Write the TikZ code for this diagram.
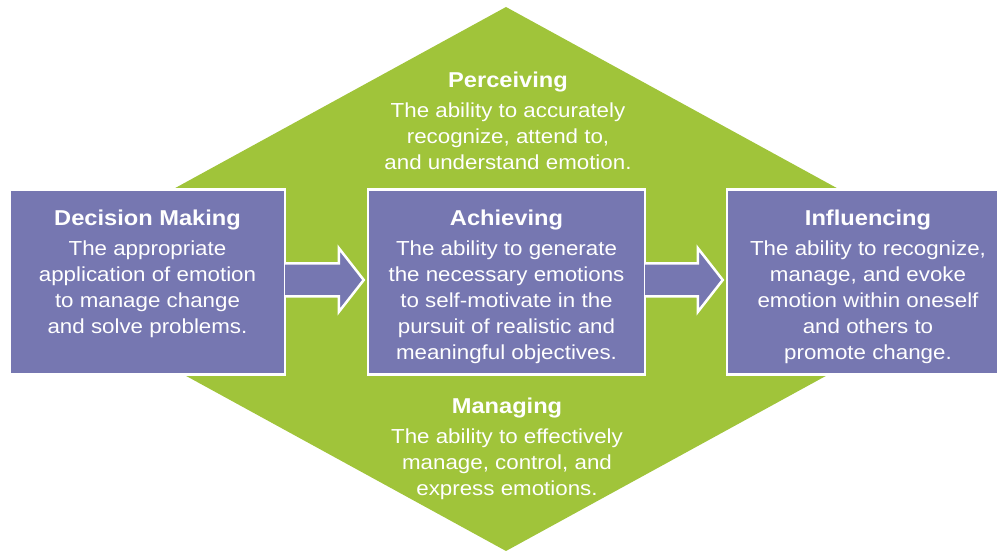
\documentclass[tikz,border=0pt]{standalone}
\usepackage{fontspec}
\setmainfont[FakeStretch=1.1]{Liberation Sans}
\usetikzlibrary{positioning}
\definecolor{leafgreen}{HTML}{A0C43A}
\definecolor{slate}{HTML}{7677B1}
\newcommand{\skillhead}[1]{{\fontsize{21.5}{26}\selectfont\bfseries #1}}
\tikzset{
  skill box/.style={draw=white, line width=2.5pt, fill=slate, minimum width=275pt, minimum height=185pt, inner sep=0pt},
  skill text/.style={text=white, align=center, inner sep=0pt, font=\fontsize{20.3}{26}\selectfont},
  block arrow/.style={fill=slate, draw=white, line width=2.5pt, line join=miter}}

\begin{document}
\begin{tikzpicture}[x=1pt,y=1pt]
  \useasboundingbox (0,0) rectangle (997,552);
  % green diamond behind everything
  \fill[leafgreen] (506,545) -- (1003,273) -- (506,1) -- (9,273) -- cycle;

  \node[skill box] (dm) at (147.5,270) {};
  \node[skill box, minimum width=277pt] (ach) at (506.5,270) {};
  \node[skill box, minimum width=282pt] (inf) at (868,270) {};

  \foreach \from/\to in {dm/ach, ach/inf} {
    \filldraw[block arrow] ([xshift=-1.25pt,yshift=18.5pt]\from.east)
      -- ([xshift=-28pt,yshift=18.5pt]\to.west) -- ([xshift=-28pt,yshift=34pt]\to.west)
      -- ([xshift=-3pt,yshift=2pt]\to.west)
      -- ([xshift=-28pt,yshift=-30pt]\to.west) -- ([xshift=-28pt,yshift=-14.5pt]\to.west)
      -- ([xshift=-1.25pt,yshift=-14.5pt]\from.east);
  }

  \node[skill text, anchor=north] (perc) at (508,480.5) {\skillhead{Perceiving}\\[4pt]
    The ability to accurately\\ recognize, attend to,\\ and understand emotion.};
  \node[skill text, anchor=north] (mng) at (507,154.5) {\skillhead{Managing}\\[4pt]
    The ability to effectively\\ manage, control, and\\ express emotions.};

  \node[skill text, below=21pt of dm.north] (dmtext) {\skillhead{Decision Making}\\[4pt]
    The appropriate\\ application of emotion\\ to manage change\\ and solve problems.};
  \node[skill text, below=21pt of ach.north] (achtext) {\skillhead{Achieving}\\[4pt]
    The ability to generate\\ the necessary emotions\\ to self-motivate in the\\ pursuit of realistic and\\ meaningful objectives.};
  \node[skill text, below=21pt of inf.north] (inftext) {\skillhead{Influencing}\\[4pt]
    The ability to recognize,\\ manage, and evoke\\ emotion within oneself\\ and others to\\ promote change.};
\end{tikzpicture}
\end{document}
